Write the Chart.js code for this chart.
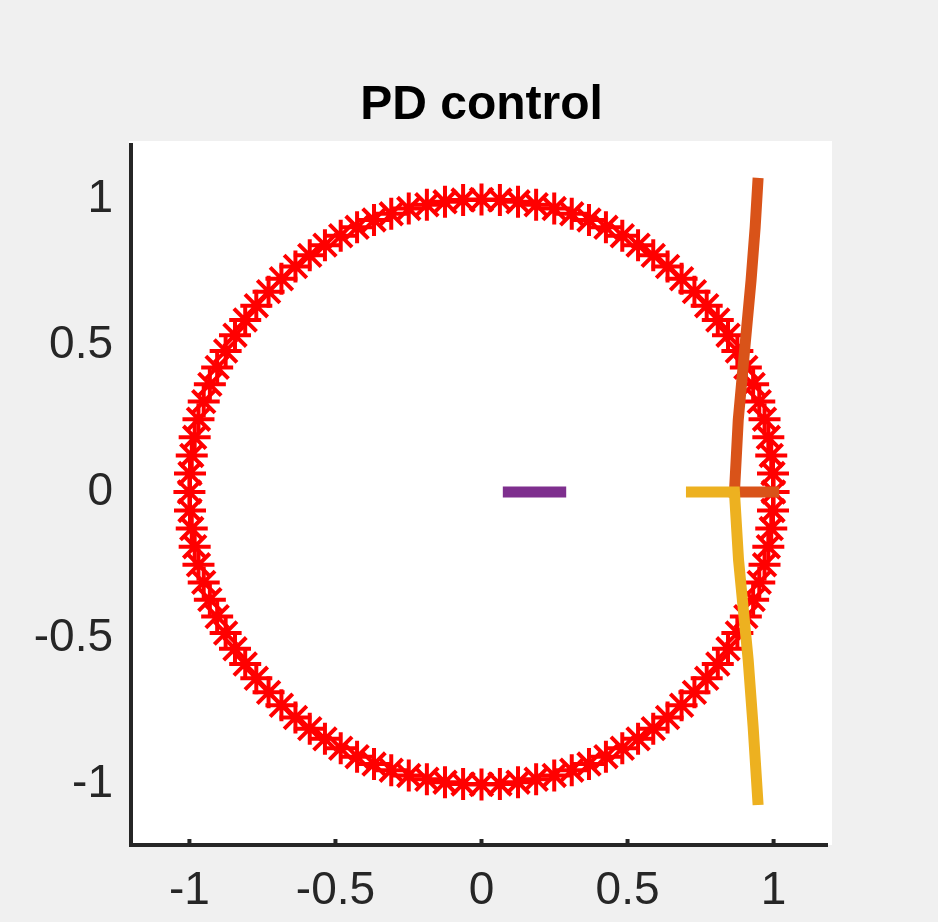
<!DOCTYPE html>
<html>
<head>
<meta charset="utf-8">
<script src="https://cdn.jsdelivr.net/npm/chart.js@4/dist/chart.umd.min.js"></script>
<style>
  html, body { margin: 0; padding: 0; background: #f0f0f0; }
  #wrap { width: 938px; height: 922px; }
</style>
</head>
<body>
<div id="wrap"><canvas id="chart" width="938" height="922"></canvas></div>
<script>
// unit circle drawn with '*' markers (100 points)
const circleX = [
  1.000, 0.998, 0.992, 0.982, 0.969, 0.951, 0.930, 0.905, 0.876, 0.844, 0.809, 0.771, 0.729, 0.685, 0.637, 0.588, 0.536, 0.482, 0.426, 0.368, 0.309, 0.249, 0.187, 0.125, 0.063,
  0.000, -0.063, -0.125, -0.187, -0.249, -0.309, -0.368, -0.426, -0.482, -0.536, -0.588, -0.637, -0.685, -0.729, -0.771, -0.809, -0.844, -0.876, -0.905, -0.930, -0.951, -0.969, -0.982, -0.992, -0.998,
  -1.000, -0.998, -0.992, -0.982, -0.969, -0.951, -0.930, -0.905, -0.876, -0.844, -0.809, -0.771, -0.729, -0.685, -0.637, -0.588, -0.536, -0.482, -0.426, -0.368, -0.309, -0.249, -0.187, -0.125, -0.063,
  0.000, 0.063, 0.125, 0.187, 0.249, 0.309, 0.368, 0.426, 0.482, 0.536, 0.588, 0.637, 0.685, 0.729, 0.771, 0.809, 0.844, 0.876, 0.905, 0.930, 0.951, 0.969, 0.982, 0.992, 0.998
]
const circleY = [
  0.000, 0.063, 0.125, 0.187, 0.249, 0.309, 0.368, 0.426, 0.482, 0.536, 0.588, 0.637, 0.685, 0.729, 0.771, 0.809, 0.844, 0.876, 0.905, 0.930, 0.951, 0.969, 0.982, 0.992, 0.998,
  1.000, 0.998, 0.992, 0.982, 0.969, 0.951, 0.930, 0.905, 0.876, 0.844, 0.809, 0.771, 0.729, 0.685, 0.637, 0.588, 0.536, 0.482, 0.426, 0.368, 0.309, 0.249, 0.187, 0.125, 0.063,
  0.000, -0.063, -0.125, -0.187, -0.249, -0.309, -0.368, -0.426, -0.482, -0.536, -0.588, -0.637, -0.685, -0.729, -0.771, -0.809, -0.844, -0.876, -0.905, -0.930, -0.951, -0.969, -0.982, -0.992, -0.998,
  -1.000, -0.998, -0.992, -0.982, -0.969, -0.951, -0.930, -0.905, -0.876, -0.844, -0.809, -0.771, -0.729, -0.685, -0.637, -0.588, -0.536, -0.482, -0.426, -0.368, -0.309, -0.249, -0.187, -0.125, -0.063
]

// root locus branches
const orangeX = [1.019, 0.866, 0.879, 0.903, 0.923, 0.937, 0.947]
const orangeY = [0, 0, 0.246, 0.509, 0.725, 0.906, 1.074]
const yellowX = [0.700, 0.866, 0.880, 0.913, 0.930, 0.947]
const yellowY = [0, 0, -0.232, -0.574, -0.803, -1.070]
const purpleX = [0.073, 0.290]
const purpleY = [0, 0]

const tickValues = [-1, -0.5, 0, 0.5, 1]
const tickLabels = ["-1", "-0.5", "0", "0.5", "1"]

const FONT = "'Liberation Sans', Arial, Helvetica, sans-serif"
const AXIS = "#262626"
const pts = (xs, ys) => xs.map((x, i) => ({ x, y: ys[i] }))

// white axes box, dark left/bottom axis lines and inward x ticks (MATLAB look)
const frame = {
  id: "frame",
  beforeDraw(chart) {
    const { ctx, chartArea: a } = chart
    ctx.save()
    ctx.fillStyle = "#ffffff"
    ctx.fillRect(a.left - 2, a.top, a.right - a.left + 2, a.bottom - a.top + 2)
    ctx.restore()
  },
  afterDraw(chart) {
    const { ctx, chartArea: a, scales } = chart
    ctx.save()
    ctx.fillStyle = AXIS
    ctx.fillRect(a.left - 2, a.top + 2, 4, a.bottom - a.top + 2)
    ctx.fillRect(a.left - 2, a.bottom, a.right - a.left - 2, 4)
    tickValues.forEach((v) => {
      const px = scales.x.getPixelForValue(v)
      ctx.fillRect(px - 2, a.bottom - 4, 4, 4)
    })
    ctx.restore()
  },
}

const fixedTicks = (scale) => { scale.ticks = tickValues.map((value) => ({ value })) }
const tickLabel = (v) => tickLabels[tickValues.indexOf(v)] ?? String(v)

const line = (label, xs, ys, color, order) => ({
  type: "line",
  label,
  order,
  data: pts(xs, ys),
  borderColor: color,
  backgroundColor: color,
  borderWidth: 11,
  borderCapStyle: "butt",
  borderJoinStyle: "miter",
  pointRadius: 0,
  tension: 0,
  fill: false,
})

new Chart(document.getElementById("chart"), {
  type: "scatter",
  data: {
    datasets: [
      line("purple", purpleX, purpleY, "#7E2F8E", 0),
      line("yellow", yellowX, yellowY, "#EDB120", 1),
      line("orange", orangeX, orangeY, "#D95319", 2),
      {
        label: "unit circle",
        data: pts(circleX, circleY),
        showLine: false,
        pointStyle: "star",
        pointRadius: 16,
        pointBorderWidth: 4,
        pointBorderColor: "#ff0000",
        pointBackgroundColor: "#ff0000",
        order: 3,
      },
    ],
  },
  options: {
    responsive: false,
    animation: false,
    layout: { padding: { left: 0, right: 106, top: 0, bottom: 0 } },
    scales: {
      x: {
        type: "linear",
        min: -1.2,
        max: 1.2,
        afterBuildTicks: fixedTicks,
        afterFit: (s) => { s.height = 79 },
        grid: { display: false, drawTicks: false },
        border: { display: false },
        ticks: { callback: tickLabel, padding: 21, color: AXIS, font: { family: FONT, size: 46 } },
      },
      y: {
        type: "linear",
        min: -1.2,
        max: 1.2,
        afterBuildTicks: fixedTicks,
        afterFit: (s) => { s.width = 131 },
        grid: { display: false, drawTicks: false },
        border: { display: false },
        ticks: { callback: tickLabel, padding: 18, color: AXIS, font: { family: FONT, size: 46 } },
      },
    },
    plugins: {
      legend: { display: false },
      tooltip: { enabled: false },
      title: {
        display: true,
        text: "PD control",
        fullSize: false,
        color: "#000000",
        font: { family: FONT, size: 48, weight: "bold", lineHeight: 1.2 },
        padding: { top: 77, bottom: 6.4 },
      },
    },
  },
  plugins: [frame],
})
</script>
</body>
</html>
